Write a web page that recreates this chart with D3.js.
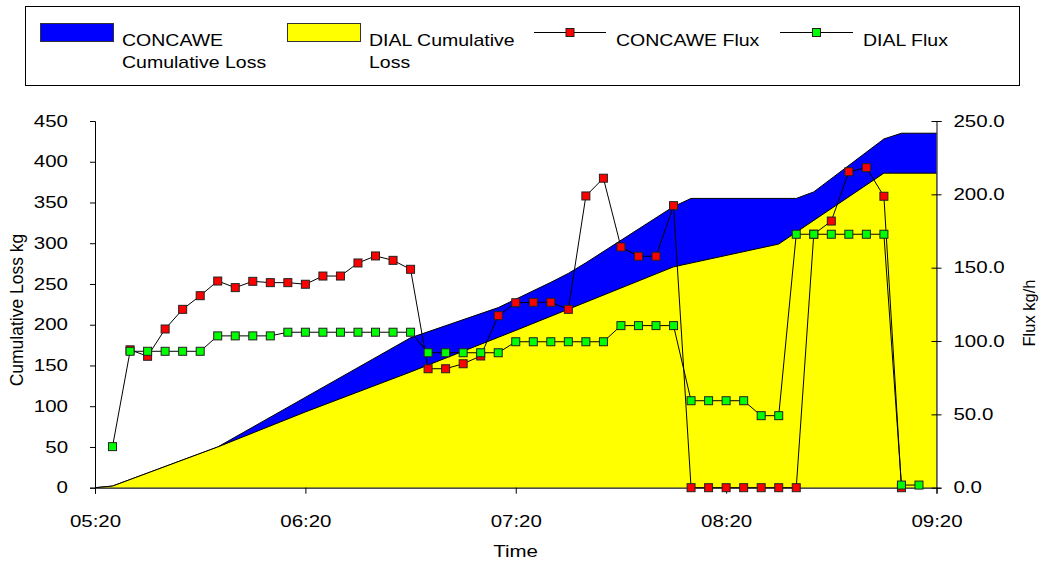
<!DOCTYPE html>
<html>
<head>
<meta charset="utf-8">
<script src="https://cdn.jsdelivr.net/npm/d3@7"></script>
<style>
  body { margin: 0; background: #fff; }
  text { font-family: "Liberation Sans", Arial, sans-serif; fill: #000; }
</style>
</head>
<body>
<script>
// ---------- data ----------
const fluxTimes = ["05:25","05:30","05:35","05:40","05:45","05:50","05:55",
  "06:00","06:05","06:10","06:15","06:20","06:25","06:30","06:35","06:40","06:45","06:50","06:55",
  "07:00","07:05","07:10","07:15","07:20","07:25","07:30","07:35","07:40","07:45","07:50","07:55",
  "08:00","08:05","08:10","08:15","08:20","08:25","08:30","08:35","08:40","08:45","08:50","08:55",
  "09:00","09:05","09:10","09:15"];
const concaweFlux = [null,94,89.6,108.2,121.6,130.9,140.9,
  136.4,140.7,139.8,139.8,138.7,144.3,144.3,153.2,158,155,148.9,81.1,
  81.1,84.5,89.8,117.3,126.1,126.4,126.4,121.6,198.9,211,164.1,157.8,
  157.8,192.3,0,0,0,0,0,0,0,172.8,181.8,215.4,
  218.2,198.7,0,null];
const dialFlux = [28,93,93,93,93,93,103.5,
  103.5,103.5,103.5,106,106,106,106,106,106,106,106,92,
  92,92,92,92,99.5,99.5,99.5,99.5,99.5,99.5,110.5,110.5,
  110.5,110.5,59.3,59.3,59.3,59.3,49.1,49.1,172.8,172.8,172.8,172.8,
  172.8,172.8,1.8,1.8];

const concaweCumTimes = ["05:20","05:25","05:55","06:50","07:15","07:30","07:35","07:40","08:05","08:10","08:40","08:45","09:05","09:10","09:20"];
const concaweCum = [0,2,50,184,221,252,263,276,345,355,355,363,428,435,435];
const dialCumTimes = ["05:20","05:25","05:55","06:20","06:50","07:20","08:05","08:35","09:05","09:20"];
const dialCum = [0,2,50,93,142,193,271,299,386,386];

const timeTicks = ["05:20","06:20","07:20","08:20","09:20"];
const leftTicks = [0,50,100,150,200,250,300,350,400,450];
const rightTicks = [0,50,100,150,200,250];

const legendLabels = [["CONCAWE","Cumulative Loss"],["DIAL Cumulative","Loss"],["CONCAWE Flux"],["DIAL Flux"]];

// ---------- setup ----------
const W = 1041, H = 562;
const SX = 1.28; // horizontal stretch of axis text
const SXL = 1.22; // horizontal stretch of legend text
const FS = 16;
const parse = d3.timeParse("%H:%M");
const svg = d3.select("body").append("svg").attr("width", W).attr("height", H);

const x = d3.scaleTime().domain([parse("05:20"), parse("09:20")]).range([95, 936.5]);
const yL = d3.scaleLinear().domain([0, 450]).range([487.7, 121]);
const yR = d3.scaleLinear().domain([0, 250]).range([487.7, 121]);

// ---------- areas ----------
const cData = concaweCumTimes.map((t, i) => ({t: parse(t), v: concaweCum[i]}));
const dData = dialCumTimes.map((t, i) => ({t: parse(t), v: dialCum[i]}));
const area = d3.area().x(d => x(d.t)).y0(yL(0)).y1(d => yL(d.v));
const topLine = d3.line().x(d => x(d.t)).y(d => yL(d.v));

svg.append("path").attr("d", area(cData)).attr("fill", "#0000FF");
svg.append("path").attr("d", topLine(cData)).attr("fill", "none").attr("stroke", "#000").attr("stroke-width", 1);
svg.append("path").attr("d", area(dData)).attr("fill", "#FFFF00");
svg.append("path").attr("d", topLine(dData)).attr("fill", "none").attr("stroke", "#000").attr("stroke-width", 1);

// ---------- axes ----------
function stretchText(g) {
  g.selectAll(".tick text").each(function() {
    const t = d3.select(this);
    const xv = +t.attr("x") || 0;
    t.attr("x", xv / SX).attr("transform", `scale(${SX},1)`);
  });
}

const gL = svg.append("g").attr("transform", "translate(95,0)")
  .call(d3.axisLeft(yL).tickValues(leftTicks).tickSize(5).tickPadding(22).tickFormat(d3.format("d")));
const gR = svg.append("g").attr("transform", "translate(936.5,0)")
  .call(d3.axisRight(yR).tickValues(rightTicks).tickSize(5).tickPadding(12).tickFormat(d3.format(".1f")));
gR.selectAll(".tick line").attr("x1", -5);
const gB = svg.append("g").attr("transform", "translate(0,487.7)")
  .call(d3.axisBottom(x).tickValues(timeTicks.map(parse)).tickSize(6).tickPadding(22).tickFormat(d3.timeFormat("%H:%M")));

[gL, gR, gB].forEach(g => {
  g.select(".domain").attr("stroke", "#000");
  g.selectAll(".tick line").attr("stroke", "#000");
  g.selectAll(".tick text").attr("font-size", FS).attr("font-family", "Liberation Sans, Arial, sans-serif").attr("fill", "#000");
  stretchText(g);
});

// axis titles
svg.append("text").attr("transform", `translate(515.5,557) scale(${SX},1)`)
  .attr("text-anchor", "middle").attr("font-size", FS).text("Time");
svg.append("text").attr("transform", `translate(23,310) rotate(-90)`)
  .attr("text-anchor", "middle").attr("font-size", 17.5).text("Cumulative Loss kg");
svg.append("text").attr("transform", `translate(1035,313) rotate(-90)`)
  .attr("text-anchor", "middle").attr("font-size", 16.5).text("Flux kg/h");

// ---------- flux lines ----------
const cFlux = fluxTimes.map((t, i) => ({t: parse(t), v: concaweFlux[i]}));
const dFlux = fluxTimes.map((t, i) => ({t: parse(t), v: dialFlux[i]}));
const fluxLine = d3.line().defined(d => d.v !== null).x(d => x(d.t)).y(d => yR(d.v));
const MS = 8;

function drawSeries(data, color) {
  svg.append("path").attr("d", fluxLine(data)).attr("fill", "none").attr("stroke", "#000").attr("stroke-width", 1);
  svg.append("g").selectAll("rect").data(data.filter(d => d.v !== null)).join("rect")
    .attr("x", d => x(d.t) - MS / 2).attr("y", d => yR(d.v) - MS / 2)
    .attr("width", MS).attr("height", MS)
    .attr("fill", color).attr("stroke", "#222").attr("stroke-width", 1);
}
drawSeries(cFlux, "#FF0000");
drawSeries(dFlux, "#00FF00");

// ---------- legend ----------
const lg = svg.append("g");
lg.append("rect").attr("x", 25.5).attr("y", 6.5).attr("width", 994).attr("height", 79)
  .attr("fill", "#fff").attr("stroke", "#000").attr("stroke-width", 1);
const swatches = [{x: 40, color: "#0000FF"}, {x: 287, color: "#FFFF00"}];
swatches.forEach(s => {
  lg.append("rect").attr("x", s.x + 0.5).attr("y", 23.5).attr("width", 73).attr("height", 18)
    .attr("fill", s.color).attr("stroke", "#333").attr("stroke-width", 1);
});
const lineItems = [{x1: 534, x2: 606, color: "#FF0000"}, {x1: 780, x2: 853, color: "#00FF00"}];
lineItems.forEach(s => {
  lg.append("line").attr("x1", s.x1).attr("x2", s.x2).attr("y1", 32.5).attr("y2", 32.5)
    .attr("stroke", "#000").attr("stroke-width", 1);
  const cx = (s.x1 + s.x2) / 2;
  lg.append("rect").attr("x", cx - MS / 2).attr("y", 32.5 - MS / 2).attr("width", MS).attr("height", MS)
    .attr("fill", s.color).attr("stroke", "#222").attr("stroke-width", 1);
});
const textX = [122, 369, 616, 863];
legendLabels.forEach((lines, i) => {
  lines.forEach((ln, j) => {
    lg.append("text").attr("transform", `translate(${textX[i]},${45.5 + j * 22}) scale(${SXL},1)`)
      .attr("font-size", FS).text(ln);
  });
});
</script>
</body>
</html>
